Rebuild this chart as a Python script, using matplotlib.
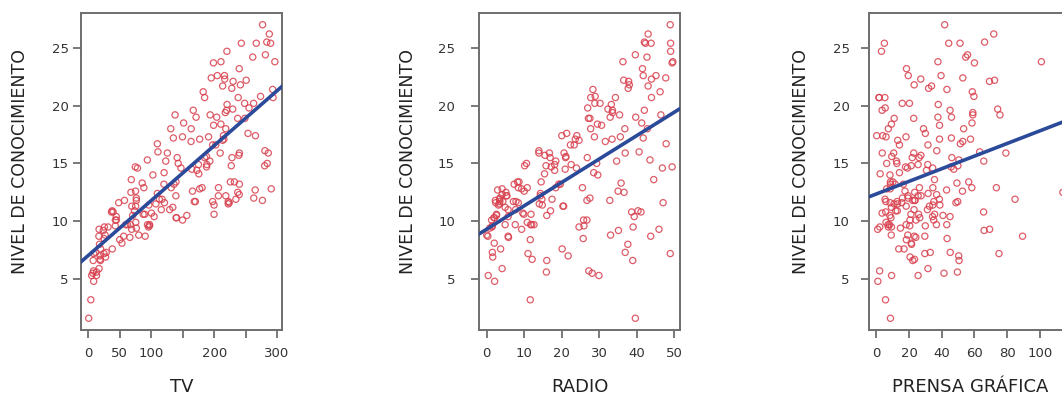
import numpy as np
import matplotlib
matplotlib.use("Agg")
import matplotlib.pyplot as plt

# inversión publicitaria y nivel de conocimiento (200 observaciones)
tv = [230.1, 44.5, 17.2, 151.5, 180.8, 8.7, 57.5, 120.2, 8.6, 199.8,
      66.1, 214.7, 23.8, 97.5, 204.1, 195.4, 67.8, 281.4, 69.2, 147.3,
      218.4, 237.4, 13.2, 228.3, 62.3, 262.9, 142.9, 240.1, 248.8, 70.6,
      292.9, 112.9, 97.2, 265.6, 95.7, 290.7, 266.9, 74.7, 43.1, 228.0,
      202.5, 177.0, 293.6, 206.9, 25.1, 175.1, 89.7, 239.9, 227.2, 66.9,
      199.8, 100.4, 216.4, 182.6, 262.7, 198.9, 7.3, 136.2, 210.8, 210.7,
      53.5, 261.3, 239.3, 102.7, 131.1, 69.0, 31.5, 139.3, 237.4, 216.8,
      199.1, 109.8, 26.8, 129.4, 213.4, 16.9, 27.5, 120.5, 5.4, 116.0,
      76.4, 239.8, 75.3, 68.4, 213.5, 193.2, 76.3, 110.7, 88.3, 109.8,
      134.3, 28.6, 217.7, 250.9, 107.4, 163.3, 197.6, 184.9, 289.7, 135.2,
      222.4, 296.4, 280.2, 187.9, 238.2, 137.9, 25.0, 90.4, 13.1, 255.4,
      225.8, 241.7, 175.7, 209.6, 78.2, 75.1, 139.2, 76.4, 125.7, 19.4,
      141.3, 18.8, 224.0, 123.1, 229.5, 87.2, 7.8, 80.2, 220.3, 59.6,
      0.7, 265.2, 8.4, 219.8, 36.9, 48.3, 25.6, 273.7, 43.0, 184.9,
      73.4, 193.7, 220.5, 104.6, 96.2, 140.3, 240.1, 243.2, 38.0, 44.7,
      280.7, 121.0, 197.6, 171.3, 187.8, 4.1, 93.9, 149.8, 11.7, 131.7,
      172.5, 85.7, 188.4, 163.5, 117.2, 234.5, 17.9, 206.8, 215.4, 284.3,
      50.0, 164.5, 19.6, 168.4, 222.4, 276.9, 248.4, 170.2, 276.7, 165.6,
      156.6, 218.5, 56.2, 287.6, 253.8, 205.0, 139.5, 191.1, 286.0, 18.7,
      39.5, 75.5, 17.2, 166.8, 149.7, 38.2, 94.2, 177.0, 283.6, 232.1]
radio = [37.8, 39.3, 45.9, 41.3, 10.8, 48.9, 32.8, 19.6, 2.1, 2.6,
         5.8, 24.0, 35.1, 7.6, 32.9, 47.7, 36.6, 39.6, 20.5, 23.9,
         27.7, 5.1, 15.9, 16.9, 12.6, 3.5, 29.3, 16.7, 27.1, 16.0,
         28.3, 17.4, 1.5, 20.0, 1.4, 4.1, 43.8, 49.4, 26.7, 37.7,
         22.3, 33.4, 27.7, 8.4, 25.7, 22.5, 9.9, 41.5, 15.8, 11.7,
         3.1, 9.6, 41.7, 46.2, 28.8, 49.4, 28.1, 19.2, 49.6, 29.5,
         2.0, 42.7, 15.5, 29.6, 42.8, 9.3, 24.6, 14.5, 27.5, 43.9,
         30.6, 14.3, 33.0, 5.7, 24.6, 43.7, 1.6, 28.5, 29.9, 7.7,
         26.7, 4.1, 20.3, 44.5, 43.0, 18.4, 27.5, 40.6, 25.5, 47.8,
         4.9, 1.5, 33.5, 36.5, 14.0, 31.6, 3.5, 21.0, 42.3, 41.7,
         4.3, 36.3, 10.1, 17.2, 34.3, 46.4, 11.0, 0.3, 0.4, 26.9,
         8.2, 38.0, 15.4, 20.6, 46.8, 35.0, 14.3, 0.8, 36.9, 16.0,
         26.8, 21.7, 2.4, 34.6, 32.3, 11.8, 38.9, 0.0, 49.0, 12.0,
         39.6, 2.9, 27.2, 33.5, 38.6, 47.0, 39.0, 28.9, 25.9, 43.9,
         17.0, 35.4, 33.2, 5.7, 14.8, 1.9, 7.3, 49.0, 40.3, 25.8,
         13.9, 8.4, 23.3, 39.7, 21.1, 11.6, 43.5, 1.3, 36.9, 18.4,
         18.1, 35.8, 18.1, 36.8, 14.7, 3.4, 37.6, 5.2, 23.6, 10.6,
         11.6, 20.9, 20.1, 7.1, 3.4, 48.9, 30.2, 7.8, 2.3, 10.0,
         2.6, 5.4, 5.7, 43.0, 21.3, 45.1, 2.1, 28.7, 13.9, 12.1,
         41.1, 10.8, 4.1, 42.0, 35.6, 3.7, 4.9, 9.3, 42.0, 8.6]
prensa = [69.2, 45.1, 69.3, 58.5, 58.4, 75.0, 23.5, 11.6, 1.0, 21.2,
          24.2, 4.0, 65.9, 7.2, 46.0, 52.9, 114.0, 55.8, 18.3, 19.1,
          53.4, 23.5, 49.6, 26.2, 18.3, 19.5, 12.6, 22.9, 22.9, 40.8,
          43.2, 38.6, 30.0, 0.3, 7.4, 8.5, 5.0, 45.7, 35.1, 32.0,
          31.6, 38.7, 1.8, 26.4, 43.3, 31.5, 35.7, 18.5, 49.9, 36.8,
          34.6, 3.6, 39.6, 58.7, 15.9, 60.0, 41.4, 16.6, 37.7, 9.3,
          21.4, 54.7, 27.3, 8.4, 28.9, 0.9, 2.2, 10.2, 11.0, 27.2,
          38.7, 31.7, 19.3, 31.3, 13.1, 89.4, 20.7, 14.2, 9.4, 23.1,
          22.3, 36.9, 32.5, 35.6, 33.8, 65.7, 16.0, 63.2, 73.4, 51.4,
          9.3, 33.0, 59.0, 72.3, 10.9, 52.9, 5.9, 22.0, 51.2, 45.9,
          49.8, 100.9, 21.4, 17.9, 5.3, 59.0, 29.7, 23.2, 25.6, 5.5,
          56.5, 23.2, 2.4, 10.7, 34.5, 52.7, 25.6, 14.8, 79.2, 22.3,
          46.2, 50.4, 15.6, 12.4, 74.2, 25.9, 50.6, 9.2, 3.2, 43.1,
          8.7, 43.0, 2.1, 45.1, 65.6, 8.5, 9.3, 59.7, 20.5, 1.7,
          12.9, 75.6, 37.9, 34.4, 38.9, 9.0, 8.7, 44.3, 11.9, 20.6,
          37.0, 48.7, 14.2, 37.7, 9.5, 5.7, 50.5, 24.3, 45.2, 34.6,
          30.7, 49.3, 25.6, 7.4, 5.4, 84.8, 21.6, 19.4, 57.6, 6.4,
          18.4, 47.4, 17.0, 12.8, 13.1, 41.8, 20.3, 35.2, 23.7, 17.6,
          8.3, 27.4, 29.7, 71.8, 30.0, 19.6, 26.6, 18.2, 3.7, 23.4,
          5.8, 6.0, 31.6, 3.6, 6.0, 13.8, 8.1, 6.4, 66.2, 8.7]
conocimiento = [22.1, 10.4, 9.3, 18.5, 12.9, 7.2, 11.8, 13.2, 4.8, 10.6,
                8.6, 17.4, 9.2, 9.7, 19.0, 22.4, 12.5, 24.4, 11.3, 14.6,
                18.0, 12.5, 5.6, 15.5, 9.7, 12.0, 15.0, 15.9, 18.9, 10.5,
                21.4, 11.9, 9.6, 17.4, 9.5, 12.8, 25.4, 14.7, 10.1, 21.5,
                16.6, 17.1, 20.7, 12.9, 8.5, 14.9, 10.6, 23.2, 14.8, 9.7,
                11.4, 10.7, 22.6, 21.2, 20.2, 23.7, 5.5, 13.2, 23.8, 18.4,
                8.1, 24.2, 15.7, 14.0, 18.0, 9.3, 9.5, 13.4, 18.9, 22.3,
                18.3, 12.4, 8.8, 11.0, 17.0, 8.7, 6.9, 14.2, 5.3, 11.0,
                11.8, 12.3, 11.3, 13.6, 21.7, 15.2, 12.0, 16.0, 12.9, 16.7,
                11.2, 7.3, 19.4, 22.2, 11.5, 16.9, 11.7, 15.5, 25.4, 17.2,
                11.7, 23.8, 14.8, 14.7, 20.7, 19.2, 7.2, 8.7, 5.3, 19.8,
                13.4, 21.8, 14.1, 15.9, 14.6, 12.6, 12.2, 9.4, 15.9, 6.6,
                15.5, 7.0, 11.6, 15.2, 19.7, 10.6, 6.6, 8.8, 24.7, 9.7,
                1.6, 12.7, 5.7, 19.6, 10.8, 11.6, 9.5, 20.8, 9.6, 20.7,
                10.9, 19.2, 20.1, 10.4, 11.4, 10.3, 13.2, 25.4, 10.9, 10.1,
                16.1, 11.6, 16.6, 19.0, 15.6, 3.2, 15.3, 10.1, 7.3, 12.9,
                14.4, 13.3, 14.9, 18.0, 11.9, 11.9, 8.0, 12.2, 17.1, 15.0,
                8.4, 14.5, 7.6, 11.7, 11.5, 27.0, 20.2, 11.7, 11.8, 12.6,
                10.5, 12.2, 8.7, 26.2, 17.6, 22.6, 10.3, 17.3, 15.9, 6.7,
                10.8, 9.9, 5.9, 19.6, 17.3, 7.6, 9.7, 12.8, 25.5, 13.4]

medios = ["TV", "RADIO", "PRENSA GRÁFICA"]
x_series = [tv, radio, prensa]
x_ticks = [[0, 50, 100, 150, 200, 250, 300],
           [0, 10, 20, 30, 40, 50],
           [0, 20, 40, 60, 80, 100]]
x_ticklabels = [["0", "50", "100", "", "200", "", "300"],
                ["0", "10", "20", "30", "40", "50"],
                ["0", "20", "40", "60", "80", "100"]]
y_ticks = [5, 10, 15, 20, 25]

plt.rcParams['font.family'] = ['DejaVu Sans']

fig = plt.figure(figsize=(10.62, 3.99), dpi=100)

lefts = [0.0765, 0.4513, 0.8185]
ylab_x = [-0.305, -0.355, -0.338]
ypads = [3.5, 12, 8.5]
gris = "#6e6e6e"
rojo = "#d8404e"
azul = "#2c4a9a"

y = np.array(conocimiento)
for i in range(3):
    ax = fig.add_axes([lefts[i], 0.1729, 0.1893, 0.7945])
    x = np.array(x_series[i])
    ax.scatter(x, y, s=20, facecolors="none", edgecolors=rojo,
               linewidths=0.9, alpha=0.85, zorder=2)
    m, b = np.polyfit(x, y, 1)
    ax.axline((0, b), slope=m, color=azul, lw=2.6, zorder=3)

    xr = x.max() - x.min()
    ax.set_xlim(x.min() - 0.04 * xr, x.max() + 0.04 * xr)
    yr = y.max() - y.min()
    ax.set_ylim(y.min() - 0.04 * yr, y.max() + 0.04 * yr)

    ax.set_xticks(x_ticks[i])
    ax.set_xticklabels(x_ticklabels[i])
    ax.set_yticks(y_ticks)
    ax.tick_params(axis="both", direction="out", length=5.5, width=1.3,
                   color=gris, labelsize=9.5, labelcolor="#333333")
    ax.tick_params(axis="x", pad=7)
    ax.tick_params(axis="y", pad=ypads[i])
    for s in ax.spines.values():
        s.set_color(gris)
        s.set_linewidth(1.4)

    ax.set_xlabel(medios[i], fontsize=13, color="#222222", labelpad=13)
    ax.set_ylabel("NIVEL DE CONOCIMIENTO", fontsize=12.5, color="#222222",
                  va="center")
    ax.yaxis.set_label_coords(ylab_x[i], 0.53)

fig.savefig("out.png", dpi=100)
